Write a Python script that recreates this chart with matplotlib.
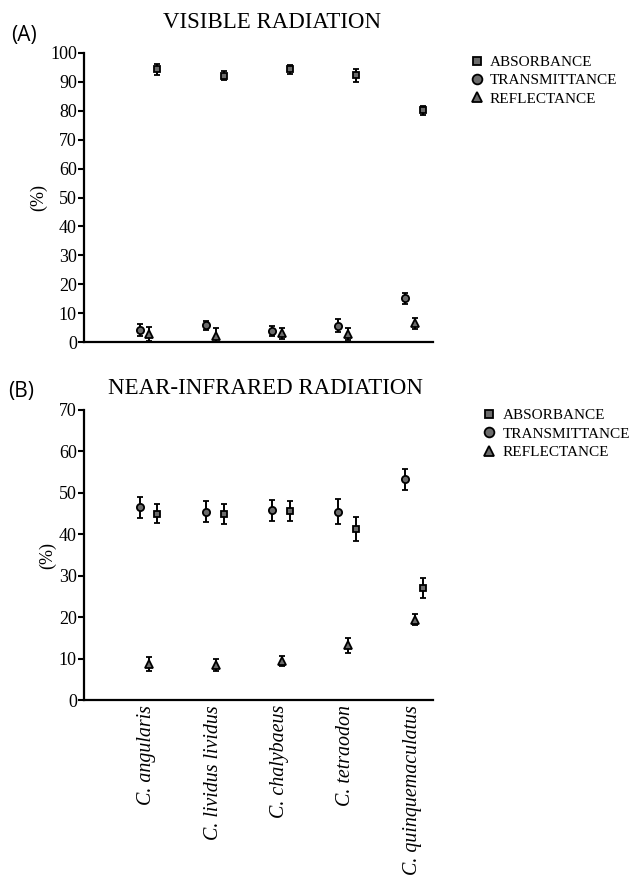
import matplotlib.pyplot as plt

species = ["C. angularis", "C. lividus lividus", "C. chalybaeus",
           "C. tetraodon", "C. quinquemaculatus"]

# visible radiation (%), mean and error
vis_abs = [94.3, 92.2, 94.3, 92.3, 80.2]
vis_abs_err = [1.8, 1.5, 1.7, 2.2, 1.5]
vis_tra = [4.2, 5.8, 3.8, 5.6, 15.1]
vis_tra_err = [2.2, 1.5, 1.7, 2.2, 2.0]
vis_ref = [2.8, 2.2, 3.0, 2.7, 6.5]
vis_ref_err = [2.4, 2.6, 2.0, 2.1, 1.9]

# near-infrared radiation (%)
nir_abs = [45.0, 44.9, 45.6, 41.3, 27.0]
nir_abs_err = [2.3, 2.3, 2.5, 2.9, 2.4]
nir_tra = [46.5, 45.5, 45.8, 45.5, 53.3]
nir_tra_err = [2.6, 2.6, 2.5, 3.0, 2.5]
nir_ref = [8.7, 8.5, 9.4, 13.2, 19.4]
nir_ref_err = [1.6, 1.4, 1.3, 1.8, 1.3]

serif = "Liberation Serif"
grey = "#6b6b6b"
x = list(range(len(species)))

fig = plt.figure(figsize=(6.4, 8.77), dpi=100)
ax1 = fig.add_axes([0.131, 0.610, 0.545, 0.3296])
ax2 = fig.add_axes([0.131, 0.2018, 0.545, 0.3307])


def draw(ax, ab, abe, tr, tre, rf, rfe, ymax):
    series = [(tr, tre, -0.11, "o", "TRANSMITTANCE", 5.2),
              (rf, rfe, 0.04, "^", "REFLECTANCE", 5.4),
              (ab, abe, 0.16, "s", "ABSORBANCE", 4.6)]
    handles = {}
    for vals, errs, off, mk, lab, ms in series:
        xs = [i + off for i in x]
        c = ax.errorbar(xs, vals, yerr=errs, fmt=mk, ms=ms, mfc=grey, mec="black",
                        mew=1.3, ecolor="black", elinewidth=1.4, capsize=2.5,
                        capthick=1.4, label=lab, zorder=3)
        handles[lab] = c[0]
    ax.set_xlim(-0.95, 4.31)
    ax.set_ylim(0, ymax)
    ax.spines["top"].set_visible(False)
    ax.spines["right"].set_visible(False)
    ax.spines["left"].set_linewidth(1.6)
    ax.spines["bottom"].set_linewidth(1.6)
    ax.tick_params(axis="y", length=4, width=1.5, labelsize=13, pad=1)
    ax.tick_params(axis="x", length=0)
    for t in ax.get_yticklabels():
        t.set_family(serif)
    ax.set_ylabel("(%)", family=serif, fontsize=13, labelpad=2)
    return [handles["ABSORBANCE"], handles["TRANSMITTANCE"], handles["REFLECTANCE"]]


h1 = draw(ax1, vis_abs, vis_abs_err, vis_tra, vis_tra_err, vis_ref, vis_ref_err, 100)
ax1.set_yticks(range(0, 101, 10))
ax1.set_xticks([])

h2 = draw(ax2, nir_abs, nir_abs_err, nir_tra, nir_tra_err, nir_ref, nir_ref_err, 70)
ax2.set_yticks(range(0, 71, 10))
ax2.set_xticks(x)
ax2.set_xticklabels(species, rotation=90, family=serif, style="italic", fontsize=14.4,
                    va="top", ha="center")
for t in ax2.get_yticklabels():
    t.set_family(serif)

labels = ["ABSORBANCE", "TRANSMITTANCE", "REFLECTANCE"]
fig.legend(h1, labels, loc="upper left", bbox_to_anchor=(0.734, 0.937), frameon=False,
           borderpad=0, borderaxespad=0, handlelength=0.9, handletextpad=0.4,
           labelspacing=0.3, markerscale=1.35, prop={"family": serif, "size": 11})
fig.legend(h2, labels, loc="upper left", bbox_to_anchor=(0.754, 0.534), frameon=False,
           borderpad=0, borderaxespad=0, handlelength=0.9, handletextpad=0.4,
           labelspacing=0.3, markerscale=1.35, prop={"family": serif, "size": 11})

fig.text(272 / 640, 0.974, "VISIBLE RADIATION", family=serif, fontsize=16.5,
         ha="center", va="center")
fig.text(266 / 640, 1 - 388 / 877, "NEAR-INFRARED RADIATION", family=serif, fontsize=16.5,
         ha="center", va="center")
fig.text(0.017, 1 - 36 / 877, "(A)", family="Open Sans", fontsize=15, va="center")
fig.text(0.013, 1 - 392 / 877, "(B)", family="Open Sans", fontsize=15, va="center")

fig.savefig("out.png", dpi=100)
